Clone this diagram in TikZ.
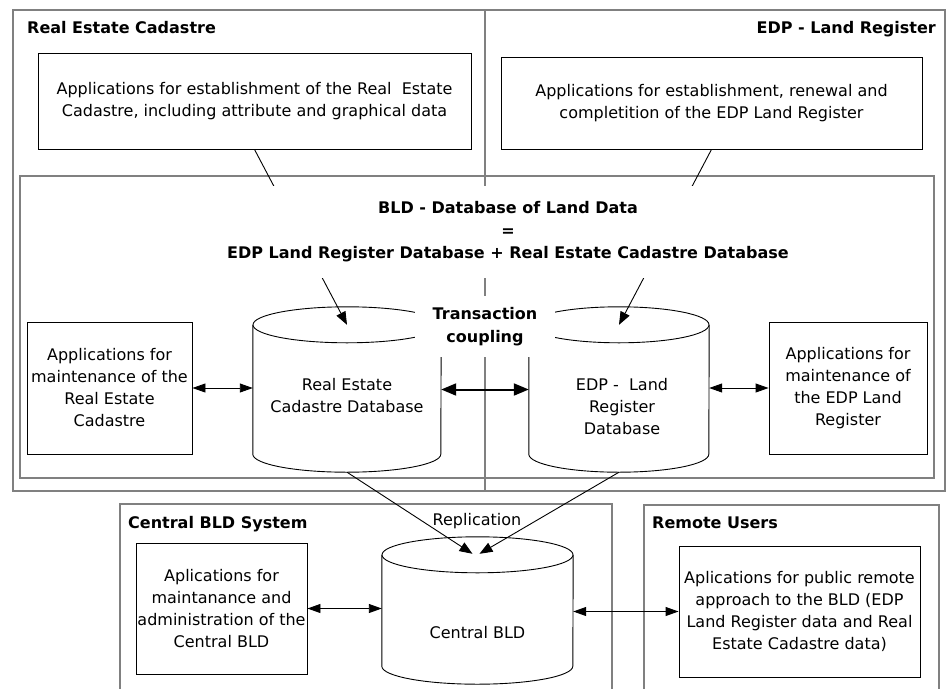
\documentclass[tikz,border=0pt]{standalone}
\usepackage{fontspec}
\setmainfont{DejaVu Sans}
\usetikzlibrary{arrows.meta,calc}

\definecolor{framegray}{RGB}{128,128,128}
\newcommand\apptext{\fontsize{16}{22}\selectfont}
\newcommand\headtext{\fontsize{16}{22.5}\selectfont\bfseries}

% database drum drawn around an invisible rectangle node: #1 name, #2 x radius, #3 y radius
\newcommand\dbdrum[3]{%
  \draw[dbline, fill=white] ($(#1.north west)+(0,#3)$) -- ($(#1.south west)+(0,-#3)$)
     arc[start angle=180, end angle=360, x radius=#2pt, y radius=#3pt]
     -- ($(#1.north east)+(0,#3)$);
  \draw[dbline, fill=white] ($(#1.north)+(0,#3)$) ellipse[x radius=#2pt, y radius=#3pt];
}

\tikzset{
  grayframe/.style={draw=framegray, line width=2pt},
  appbox/.style={draw=black, line width=0.9pt, align=center, inner sep=0pt, font=\apptext},
  dbnode/.style={draw=none, inner sep=0pt},
  dbline/.style={draw=black, line width=0.9pt},
  dbtext/.style={align=center, inner sep=0pt, font=\apptext},
  head/.style={inner sep=0pt, font=\headtext},
  plain/.style={inner sep=0pt, font=\apptext},
  titlebox/.style={fill=white, align=center, inner sep=0pt, font=\headtext},
  feed/.style={line width=0.9pt, -{Triangle[length=13pt,width=10pt]}},
  biarrow/.style={line width=0.9pt, {Triangle[length=13pt,width=9pt]}-{Triangle[length=13pt,width=9pt]}},
  coupling/.style={line width=2pt, {Triangle[length=15pt,width=12pt]}-{Triangle[length=15pt,width=12pt]}},
}

\begin{document}
\begin{tikzpicture}[x=1pt, y=-1pt]
  \clip (0,0) rectangle (952,688);
  \fill[white] (0,0) rectangle (952,688);

  % upper halves: cadastre and land register
  \draw[grayframe] (13,10) rectangle (485,491);
  \draw[grayframe] (485,10) rectangle (945,491);
  \draw[grayframe] (20,176) rectangle (934,478);

  \node[head, anchor=base west] (rcLabel) at (27,33.5) {Real Estate Cadastre};
  \node[head, anchor=base east] (lrLabel) at (936,33.5) {EDP - Land Register};

  \node[appbox, minimum width=433pt, minimum height=96pt] (estRC) at (254.5,101)
    {Applications for establishment of the Real\ \ Estate\\Cadastre, including attribute and graphical data};
  \node[appbox, minimum width=421pt, minimum height=92pt] (estLR) at (711.5,103)
    {Applications for establishment, renewal and\\completition of the EDP Land Register};

  % the two partial databases
  \node[dbnode, minimum width=188pt, minimum height=165pt] (recDB) at (347,389.5) {};
  \node[dbnode, minimum width=180pt, minimum height=165pt] (lrDB) at (619,389.5) {};
  \dbdrum{recDB}{94}{18}
  \dbdrum{lrDB}{90}{18}
  \node[dbtext] (recDBtext) at (347,396) {Real Estate\\Cadastre Database};
  \node[dbtext] (lrDBtext) at (622,407) {EDP -\ \ Land\\Register\\Database};

  \coordinate (recTop) at ($(recDB.north)+(0,18)$);
  \coordinate (lrTop) at ($(lrDB.north)+(0,18)$);
  \draw[feed] (estRC.south) -- (recTop);
  \draw[feed] (estLR.south) -- (lrTop);

  \node[titlebox, minimum width=600pt, minimum height=92pt] (bld) at (508,232)
    {BLD - Database of Land Data\\=\\EDP Land Register Database + Real Estate Cadastre Database};
  \node[titlebox, minimum width=140pt, minimum height=61pt] (coupleText) at (485,326.5)
    {Transaction\\coupling};

  \node[appbox, minimum width=165pt, minimum height=132pt] (maintRC) at (109.5,388)
    {Applications for\\maintenance of the\\Real Estate\\Cadastre};
  \node[appbox, minimum width=158pt, minimum height=132pt] (maintLR) at (848,388)
    {Applications for\\maintenance of\\the EDP Land\\Register};

  \draw[biarrow] (maintRC.east) -- (maintRC.east -| recDB.west);
  \draw[biarrow] (maintLR.west) -- (maintLR.west -| lrDB.east);
  \draw[coupling] (recDB.east) -- (lrDB.west);

  % central system and remote users
  \draw[grayframe] (120,700) -- (120,504) -- (612,504) -- (612,700);
  \draw[grayframe] (644,700) -- (644,505) -- (939,505) -- (939,700);
  \node[head, anchor=base west] (cenLabel) at (128,528.5) {Central BLD System};
  \node[head, anchor=base west] (remLabel) at (652,528.5) {Remote Users};

  \node[appbox, minimum width=171pt, minimum height=131pt] (admin) at (221.5,608.5)
    {Aplications for\\maintanance and\\administration of the\\Central BLD};
  \node[appbox, minimum width=241pt, minimum height=131pt] (remote) at (799.5,611.5)
    {Aplications for public remote\\approach to the BLD (EDP\\Land Register data and Real\\Estate Cadastre data)};

  \node[dbnode, minimum width=191pt, minimum height=147pt] (central) at (477.5,610.5) {};
  \dbdrum{central}{95.5}{18}
  \node[dbtext] (centralText) at (477.5,633) {Central BLD};
  \node[plain, anchor=base] (replLabel) at (477,525) {Replication};

  \coordinate (cenTop) at ($(central.north)+(0,18)$);
  \draw[feed] (recDB.south) -- ($(cenTop)+(-5,-1)$);
  \draw[feed] (lrDB.south) -- ($(cenTop)+(2,-1)$);

  \draw[biarrow] (admin.east) -- (admin.east -| central.west);
  \draw[biarrow] (central.east |- remote.west) -- (remote.west);
\end{tikzpicture}
\end{document}
